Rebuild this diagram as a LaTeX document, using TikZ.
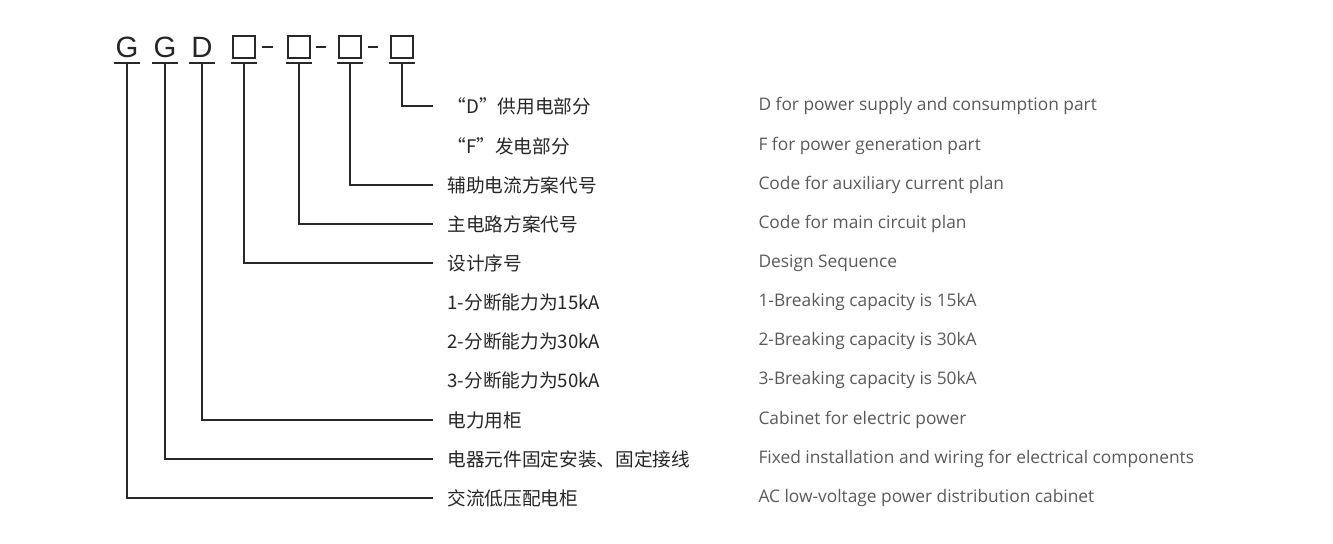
\documentclass[tikz,border=0pt]{standalone}
\usepackage{fontspec}
\setmainfont{Liberation Sans}
\newfontfamily\cjk{Noto Sans CJK SC}
\newfontfamily\enfont{Open Sans}
\usetikzlibrary{positioning}
\definecolor{lineC}{RGB}{40,40,40}
\definecolor{enC}{RGB}{90,90,90}
\tikzset{every picture/.style={line width=0.75pt},
  lead/.style={draw=lineC,line width=1.1pt},
  cnlab/.style={anchor=west,inner sep=0pt,font=\cjk\fontsize{14}{14}\selectfont,text=black!85},
  enlab/.style={anchor=west,inner sep=0pt,font=\enfont\fontsize{13}{13}\selectfont,text=enC},
  code/.style={inner sep=0pt,font=\fontsize{22}{22}\selectfont,text=black!85},
  box/.style={draw=lineC,line width=1.1pt,minimum size=16.5pt,inner sep=0pt}}
\def \xCn {447}
\def \xEn {758}
\def \yBar {63}

\begin{document}
\begin{tikzpicture}[x=0.75pt,y=0.75pt,yscale=-1,xscale=1]
	\useasboundingbox (0,0) rectangle (1333,543);

	% code letters and boxes
	\node [code] (g1) at (127,47) {G};
	\node [code] (g2) at (165,47) {G};
	\node [code] (d) at (202,47) {D};
	\node [box] (b1) at (244,47) {};
	\node [box] (b2) at (299,47) {};
	\node [box] (b3) at (350,47) {};
	\node [box] (b4) at (402,47) {};
	\draw [lead,line width=2pt] (b1.east)+(6,0) -- +(17,0);
	\draw [lead,line width=2pt] (b2.east)+(5,0) -- +(15,0);
	\draw [lead,line width=2pt] (b3.east)+(6,0) -- +(16,0);

	% underlines
	\foreach \x in {127,165,202,244,299,350,402}
		\draw [lead] (\x-13,\yBar) -- (\x+13,\yBar);

	% labels
	\foreach \y/\cn/\en [count=\i] in {
		106/“D”供用电部分/D for power supply and consumption part,
		146/“F”发电部分/F for power generation part,
		185/辅助电流方案代号/Code for auxiliary current plan,
		224/主电路方案代号/Code for main circuit plan,
		263/设计序号/Design Sequence,
		302/1-分断能力为15kA/1-Breaking capacity is 15kA,
		341/2-分断能力为30kA/2-Breaking capacity is 30kA,
		380/3-分断能力为50kA/3-Breaking capacity is 50kA,
		420/电力用柜/Cabinet for electric power,
		459/电器元件固定安装、固定接线/Fixed installation and wiring for electrical components,
		498/交流低压配电柜/AC low-voltage power distribution cabinet}
	{
		\node [cnlab] (cn\i) at (\xCn,\y) {\cn};
		\node [enlab] (en\i) at (\xEn,\y) {\en};
	}

	% leaders
	\foreach \x/\i in {402/1,350/3,299/4,244/5,202/9,165/10,127/11}
		\draw [lead] (\x,\yBar) |- ([xshift=-10.5pt]cn\i.west);

\end{tikzpicture}
\end{document}
